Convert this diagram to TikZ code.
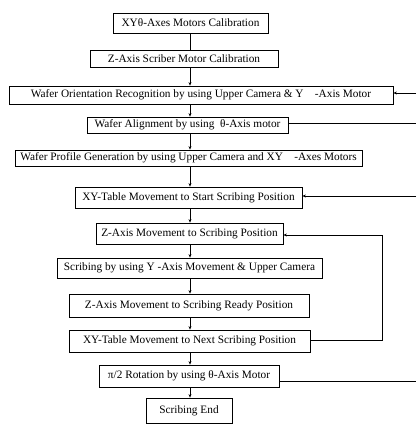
\documentclass[tikz,border=0pt]{standalone}
\usepackage{fontspec}
\setmainfont{Liberation Serif}
\usetikzlibrary{arrows.meta}
\begin{document}
\begin{tikzpicture}[x=1pt,y=-1pt,
  box/.style={draw,line width=0.8pt,inner sep=0pt,font=\fontsize{11.3}{13}\selectfont},
  ln/.style={line width=0.7pt},
  arr/.style={line width=0.7pt,-{Stealth[length=3.5pt,width=3pt]}}]
\useasboundingbox (0,0) rectangle (416,427);
\node[box,minimum width=155pt,minimum height=20pt] (n1) at (190.5,23) {XYθ-Axes Motors Calibration};
\node[box,minimum width=188pt,minimum height=17pt] (n2) at (184,58.5) {Z-Axis Scriber Motor Calibration};
\node[box,minimum width=384pt,minimum height=18pt] (n3) at (201,95) {Wafer Orientation Recognition by using Upper Camera \& Y\quad -Axis Motor};
\node[box,minimum width=201pt,minimum height=16pt] (n4) at (187.5,125) {Wafer Alignment by using\ \ θ-Axis motor};
\node[box,minimum width=347pt,minimum height=16pt] (n5) at (188.5,158) {Wafer Profile Generation by using Upper Camera and XY\quad -Axes Motors};
\node[box,minimum width=227pt,minimum height=21pt] (n6) at (188.5,197.5) {XY-Table Movement to Start Scribing Position};
\node[box,minimum width=187pt,minimum height=21pt] (n7) at (189.5,233.5) {Z-Axis Movement to Scribing Position};
\node[box,minimum width=265pt,minimum height=20pt] (n8) at (189.5,268) {Scribing by using Y -Axis Movement \& Upper Camera};
\node[box,minimum width=240pt,minimum height=23pt] (n9) at (189,305.5) {Z-Axis Movement to Scribing Ready Position};
\node[box,minimum width=241pt,minimum height=22pt] (n10) at (189.5,341) {XY-Table Movement to Next Scribing Position};
\node[box,minimum width=180pt,minimum height=22pt] (n11) at (189,376) {π/2 Rotation by using θ-Axis Motor};
\node[box,minimum width=86pt,minimum height=25pt] (n12) at (189,410.5) {Scribing End};
\coordinate (X) at (190,0);
\draw[ln] (n1.south -| X) -- (n2.north -| X);
\draw[arr] (n2.south -| X) -- (n3.north -| X);
\draw[arr] (n3.south -| X) -- (n4.north -| X);
\draw[arr] (n4.south -| X) -- (n5.north -| X);
\draw[arr] (n5.south -| X) -- (n6.north -| X);
\draw[arr] (n6.south -| X) -- (n7.north -| X);
\draw[arr] (n7.south -| X) -- (n8.north -| X);
\draw[arr] (n8.south -| X) -- (n9.north -| X);
\draw[arr] (n9.south -| X) -- (n10.north -| X);
\draw[arr] (n10.south -| X) -- (n11.north -| X);
\draw[arr] (n11.south -| X) -- (n12.north -| X);
% right side feedback lines
\coordinate (e3) at (416,93);
\coordinate (e4) at (416,123);
\coordinate (e6) at (416,196);
\coordinate (e11) at (416,381);
\coordinate (L) at (382,0);
\draw[arr] (e3) -- (e3 -| n3.east);
\draw[ln] (n4.east |- e4) -- (e4);
\draw[arr] (e6) -- (e6 -| n6.east);
\draw[ln] (n11.east |- e11) -- (e11);
\draw[arr] (n10.east |- 0,340) -- (L |- 0,340) -- (L |- 0,235) -- (n7.east |- 0,235);
\end{tikzpicture}
\end{document}
